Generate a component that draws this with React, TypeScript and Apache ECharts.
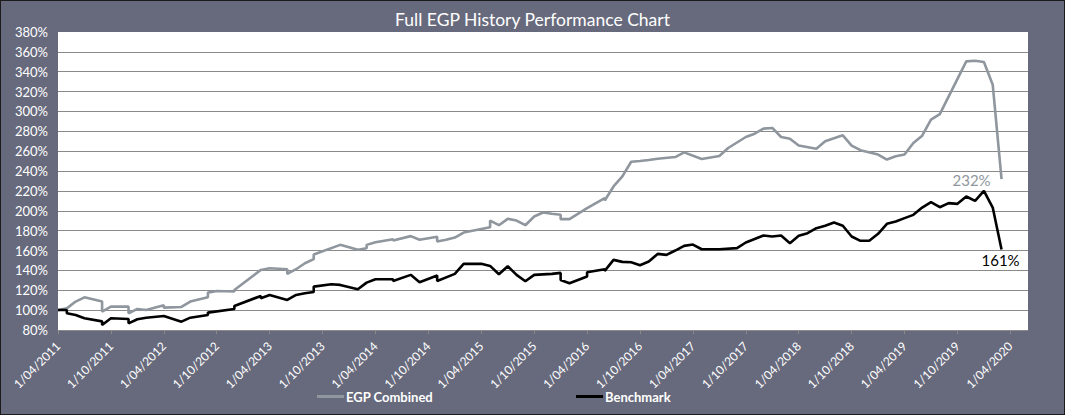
import React, { useEffect, useRef } from "react";
import * as echarts from "echarts";

// x = month index since April 2011 (0 = Apr 2011, 107 = Mar 2020);
// a repeated index means two observations in the same month (a step in the line)
const egpMonths = [
  0, 1, 2, 3, 5, 5, 6, 8, 8, 9, 10, 12, 12, 14, 15, 17, 17, 18,
  20, 20, 23, 24, 26, 26, 27, 28, 29, 29, 32, 34, 35,
  35, 36, 38, 38, 40, 41, 43, 43, 44, 45, 46, 49, 49, 50, 51, 52,
  53, 54, 55, 56, 57, 57, 58, 60, 62, 62, 63, 64, 65, 66, 67, 68,
  70, 71, 73, 75, 76, 78, 79, 80, 81, 82, 83, 84, 86, 87, 89, 90,
  91, 93, 94, 95, 96, 97, 98, 99, 100, 103, 104, 105, 106, 107,
];
const egpValues = [
  100, 101.8, 108.6, 112.9, 108.6, 98.5, 103.5, 103.5, 96.8, 101.2, 100.2, 104.9, 102.5, 103.2,
  108.6, 112.9, 117.6, 119.3, 118.7, 120.3, 140.5, 142.2, 141.2, 136.5, 141.2,
  147.2, 151.3, 156, 165.7, 160.7, 162.3, 165.7, 168.4, 171.4, 170.1, 174.5, 170.8, 173.8, 169.1,
  170.8, 173.1, 178.1, 183.5, 190.2, 185.5, 191.9, 190.2, 185.5, 194.3, 198.3, 197, 196, 191.6,
  191.6, 202.7, 212.8, 210.4, 224.5, 234.6, 249.4, 250.1, 251.1, 252.4, 254.1, 258.8, 252.1, 255.1,
  263.2, 274.3, 277.6, 282.7, 283.4, 274.3, 272.6, 265.7, 262.4, 270, 276, 265.7, 261, 256.6, 251.6,
  255, 256.6, 268.3, 275.6, 291.7, 297.4, 350.4, 351, 349.8, 326.9, 232,
];

const benchMonths = [
  0, 1, 1, 2, 3, 5, 5, 6, 8, 8, 9, 10, 12, 14, 15, 17, 17,
  20, 20, 23, 23, 24, 26, 27, 28, 29, 29, 31, 32, 34, 35,
  36, 38, 38, 40, 41, 43, 43, 45, 46, 48, 49, 50, 51, 52, 53, 54,
  56, 57, 57, 58, 60, 60, 62, 62, 63, 64, 65, 66, 67, 68, 69, 70,
  71, 72, 73, 75, 77, 78, 80, 81, 82, 83, 84, 85, 86, 87, 88, 89,
  90, 91, 92, 93, 94, 95, 96, 97, 98, 99, 100, 101, 102, 103, 104,
  105, 106, 107,
];
const benchValues = [
  100.2, 100.2, 96.8, 95.1, 91.8, 88.7, 85, 91.8, 91.1, 86.7, 90.8, 92.4, 94.1, 88.4, 92.4, 95.1,
  97.5, 101.2, 104.2, 114.3, 111.9, 115.3, 110.3, 115.3, 117, 118.3, 123.7,
  126.1, 125.4, 121, 127.7, 131.1, 131.1, 129.4, 135.5, 128.1, 134.8, 129.4, 136.5, 146.6, 146.6,
  144.5, 136.1, 144.2, 135.5, 129.1, 135.5, 136.5, 137.5, 130.4, 127.1, 133.8, 138.2, 141.2, 139.5,
  150.6, 148.6, 148.2, 145.2, 148.9, 156.6, 155.6, 160, 164.7, 166, 161.3, 161.3, 162.4, 168.1,
  175.1, 174.1, 175.1, 167.4, 174.8, 177.5, 182.5, 184.9, 188.2, 184.9, 174.1, 169.8, 169.8, 176.8,
  186.9, 189.2, 192.6, 195.9, 203.3, 208.7, 203.6, 207.7, 207, 214.4, 210, 220.1, 203.3, 161,
];

const seriesNames = ["EGP Combined", "Benchmark"];
const yTicks = [80, 100, 120, 140, 160, 180, 200, 220, 240, 260, 280, 300, 320, 340, 360, 380];

const FONT = "Lato, 'Noto Sans', sans-serif";
const BG = "#676a7d";
const GREY_LINE = "#8f969e";

function monthLabel(v: number): string {
  const total = 3 + Math.round(v);
  const year = 2011 + Math.floor(total / 12);
  const m = (total % 12) + 1;
  return `1/${m < 10 ? "0" + m : m}/${year}`;
}

export default function App() {
  const ref = useRef<HTMLDivElement>(null);

  useEffect(() => {
    document.body.style.margin = "0";
    if (!ref.current) return;
    const chart = echarts.init(ref.current, undefined, { renderer: "svg" });

    const egpData = egpMonths.map((m, i) => [m, egpValues[i]]);
    const benchData = benchMonths.map((m, i) => [m, benchValues[i]]);
    const egpLast = egpData[egpData.length - 1];
    const benchLast = benchData[benchData.length - 1];

    const splitColors = yTicks.map((t, i) => (i === yTicks.length - 1 ? "rgba(0,0,0,0)" : "#8a8a8a"));

    const legendText = { color: "#ffffff", fontSize: 13, fontWeight: "bold", fontFamily: FONT, padding: [0, 0, 0, -3] };

    chart.setOption({
      animation: false,
      backgroundColor: BG,
      textStyle: { fontFamily: FONT },
      title: {
        text: "Full EGP History Performance Chart",
        left: "center",
        top: 4,
        textStyle: { color: "#ffffff", fontSize: 17.5, fontWeight: "normal", fontFamily: FONT },
      },
      legend: [
        {
          data: [seriesNames[0]],
          left: 311,
          top: 384,
          icon: "rect",
          itemWidth: 27,
          itemHeight: 3,
          itemGap: 0,
          textStyle: legendText,
        },
        {
          data: [seriesNames[1]],
          left: 570,
          top: 384,
          icon: "rect",
          itemWidth: 27,
          itemHeight: 3,
          itemGap: 0,
          textStyle: legendText,
        },
      ],
      grid: {
        left: 57,
        top: 31,
        right: 36,
        bottom: 84,
        show: true,
        backgroundColor: "#ffffff",
        borderWidth: 0,
      },
      xAxis: {
        type: "value",
        min: 0,
        max: 110,
        interval: 6,
        axisLine: { show: true, lineStyle: { color: "#8a8a8a", width: 1 } },
        axisTick: { show: true, length: 4, lineStyle: { color: "#8a8a8a" } },
        splitLine: { show: false },
        axisLabel: {
          rotate: 45,
          color: "#ffffff",
          fontSize: 12,
          fontFamily: FONT,
          margin: 14,
          showMaxLabel: false,
          formatter: (v: number) => monthLabel(v),
        },
      },
      yAxis: {
        type: "value",
        min: yTicks[0],
        max: yTicks[yTicks.length - 1],
        interval: 20,
        axisLine: { show: false },
        axisTick: { show: false },
        splitLine: { show: true, lineStyle: { color: splitColors, width: 1 } },
        axisLabel: {
          color: "#ffffff",
          fontSize: 13,
          fontFamily: FONT,
          margin: 10,
          formatter: "{value}%",
        },
      },
      series: [
        {
          name: seriesNames[0],
          type: "line",
          data: egpData,
          showSymbol: false,
          symbol: "none",
          color: GREY_LINE,
          lineStyle: { color: GREY_LINE, width: 2.6 },
          z: 3,
          markPoint: {
            symbol: "circle",
            symbolSize: 0,
            silent: true,
            data: [
              {
                coord: egpLast,
                value: egpLast[1],
                label: {
                  show: true,
                  position: "inside",
                  offset: [-30, 1],
                  formatter: () => `${Math.round(egpLast[1] as number)}%`,
                  color: GREY_LINE,
                  fontSize: 15,
                  fontFamily: FONT,
                },
              },
            ],
          },
        },
        {
          name: seriesNames[1],
          type: "line",
          data: benchData,
          showSymbol: false,
          symbol: "none",
          color: "#000000",
          lineStyle: { color: "#000000", width: 2.6 },
          z: 4,
          markPoint: {
            symbol: "circle",
            symbolSize: 0,
            silent: true,
            data: [
              {
                coord: benchLast,
                value: benchLast[1],
                label: {
                  show: true,
                  position: "inside",
                  offset: [-1, 10],
                  formatter: () => `${Math.round(benchLast[1] as number)}%`,
                  color: "#000000",
                  fontSize: 15,
                  fontFamily: FONT,
                },
              },
            ],
          },
        },
      ],
    });

    return () => chart.dispose();
  }, []);

  return (
    <div style={{ width: 1065, height: 415, boxSizing: "border-box", border: "1px solid #1b1b1b", background: BG }}>
      <div ref={ref} style={{ width: 1063, height: 413 }} />
    </div>
  );
}
